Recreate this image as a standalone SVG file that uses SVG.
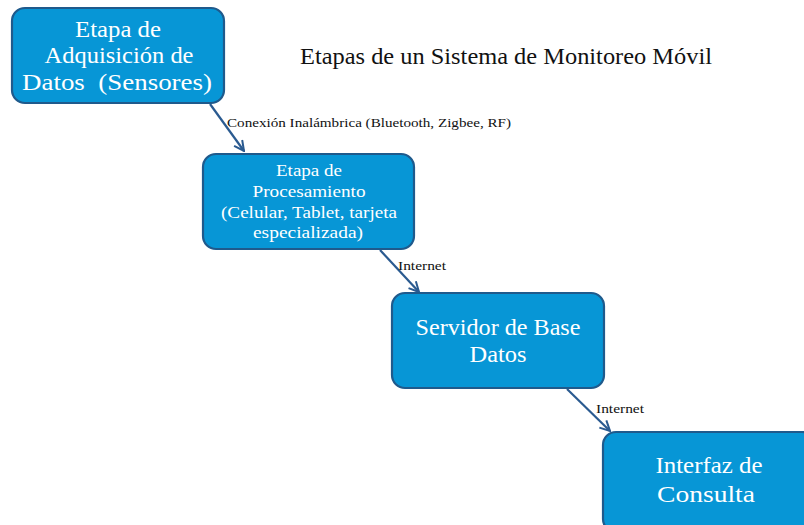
<svg xmlns="http://www.w3.org/2000/svg" width="804" height="525" viewBox="0 0 804 525">
<defs>
<style>
.node{fill:#0796d6;stroke:#1f5a8c;stroke-width:2.2}
.nt{font-family:"Liberation Serif","DejaVu Serif",serif;fill:#ffffff;text-anchor:middle}
.big{font-size:24px}
.mid{font-size:17px}
.lbl{font-family:"Liberation Serif","DejaVu Serif",serif;fill:#111111;font-size:12px}
.edge{stroke:#2a5a90;stroke-width:2.2;fill:none;marker-end:url(#arr)}
</style>
<marker id="arr" viewBox="0 0 12 12" refX="11" refY="6" markerWidth="12" markerHeight="12" markerUnits="userSpaceOnUse" orient="auto">
<path d="M1,1 L11,6 L1,11" fill="none" stroke="#2a5a90" stroke-width="2"/>
</marker>
</defs>
<rect width="804" height="525" fill="#ffffff"/>
<text x="300" y="64" font-family="Liberation Serif,DejaVu Serif,serif" font-size="23" fill="#111111" textLength="412" lengthAdjust="spacingAndGlyphs">Etapas de un Sistema de Monitoreo Móvil</text>
<g id="connectors">
<line class="edge" x1="210" y1="104" x2="244" y2="151"/>
<line class="edge" x1="380" y1="250" x2="419" y2="292"/>
<line class="edge" x1="567" y1="389" x2="610" y2="431"/>
<text class="lbl" x="227" y="127" textLength="284" lengthAdjust="spacingAndGlyphs">Conexión Inalámbrica (Bluetooth,  Zigbee, RF)</text>
<text class="lbl" x="398" y="270" textLength="48" lengthAdjust="spacingAndGlyphs">Internet</text>
<text class="lbl" x="596" y="413" textLength="48" lengthAdjust="spacingAndGlyphs">Internet</text>
</g>
<g id="n1">
<rect class="node" x="12" y="8" width="212" height="95" rx="13"/>
<text class="nt big" x="118" y="37" textLength="86" lengthAdjust="spacingAndGlyphs">Etapa de</text>
<text class="nt big" x="119" y="63" textLength="149" lengthAdjust="spacingAndGlyphs">Adquisición de</text>
<text class="nt big" x="117" y="90" textLength="190" lengthAdjust="spacingAndGlyphs" xml:space="preserve">Datos  (Sensores)</text>
</g>
<g id="n2">
<rect class="node" x="203" y="154" width="211" height="95" rx="13"/>
<text class="nt mid" x="309" y="176" textLength="66" lengthAdjust="spacingAndGlyphs">Etapa de</text>
<text class="nt mid" x="309" y="197" textLength="113" lengthAdjust="spacingAndGlyphs">Procesamiento</text>
<text class="nt mid" x="309" y="218" textLength="176" lengthAdjust="spacingAndGlyphs">(Celular, Tablet, tarjeta</text>
<text class="nt mid" x="308" y="238" textLength="110" lengthAdjust="spacingAndGlyphs">especializada)</text>
</g>
<g id="n3">
<rect class="node" x="392" y="293" width="212" height="95" rx="13"/>
<text class="nt big" x="498" y="335" textLength="165" lengthAdjust="spacingAndGlyphs">Servidor de Base</text>
<text class="nt big" x="498" y="362" textLength="57" lengthAdjust="spacingAndGlyphs">Datos</text>
</g>
<g id="n4">
<rect class="node" x="603" y="432" width="212" height="100" rx="13"/>
<text class="nt big" x="709" y="473" textLength="107" lengthAdjust="spacingAndGlyphs">Interfaz de</text>
<text class="nt big" x="706" y="502" textLength="98" lengthAdjust="spacingAndGlyphs">Consulta</text>
</g>
</svg>
